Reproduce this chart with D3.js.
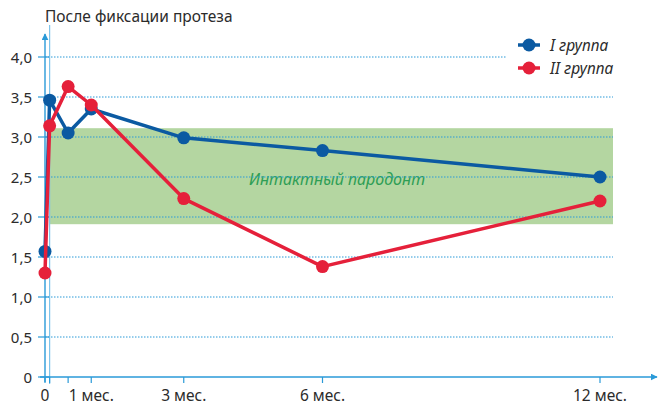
<!DOCTYPE html>
<html>
<head>
<meta charset="utf-8">
<script src="https://cdn.jsdelivr.net/npm/d3@7"></script>
<style>
  body { margin: 0; background: #fff; }
  svg text { font-family: "Noto Sans", "Open Sans", sans-serif; fill: #2b2b2b; }
</style>
</head>
<body>
<svg></svg>
<script>
var WIDTH = 659;
var HEIGHT = 407;

// time points in months after prosthesis fixation
var months = [0, 0.1, 0.5, 1, 3, 6, 12];
var group1 = [1.57, 3.46, 3.05, 3.35, 2.99, 2.83, 2.50];
var group2 = [1.30, 3.14, 3.63, 3.40, 2.23, 1.38, 2.20];
var seriesNames = ["I группа", "II группа"];
var yTicks = [0, 0.5, 1, 1.5, 2, 2.5, 3, 3.5, 4];
var xTicks = [0, 0.1, 0.5, 1, 3, 6, 12];
var xLabels = [
    {"m": 0, "label": "0"},
    {"m": 1, "label": "1 мес."},
    {"m": 3, "label": "3 мес."},
    {"m": 6, "label": "6 мес."},
    {"m": 12, "label": "12 мес."}
];
var normRange = [1.91, 3.11];

var AXIS = "#2a9ad8";
var BLUE = "#0b5aa2";
var RED = "#e5203a";

var svg = d3.select("svg")
    .attr("width", WIDTH)
    .attr("height", HEIGHT);

var x = d3.scaleLinear().domain([0, 12]).range([45, 600]);
var y = d3.scaleLinear().domain([0, 4]).range([377, 57]);

// normal range band
svg.append("rect")
    .attr("x", x(0.1))
    .attr("y", y(normRange[1]))
    .attr("width", 613 - x(0.1))
    .attr("height", y(normRange[0]) - y(normRange[1]))
    .attr("fill", "#b4d6a1");

svg.append("text")
    .attr("x", 337)
    .attr("y", y(2.47) + 6)
    .attr("text-anchor", "middle")
    .style("font-size", "16px")
    .style("font-style", "italic")
    .style("fill", "#2e9e55")
    .text("Интактный пародонт");

// dotted grid
svg.append("g").selectAll("line")
    .data(yTicks.filter(function(d) { return d > 0; }))
    .enter()
    .append("line")
    .attr("x1", 45)
    .attr("x2", function(d) { return d === 4 ? 507 : 613; })
    .attr("y1", function(d) { return y(d); })
    .attr("y2", function(d) { return y(d); })
    .attr("stroke", AXIS)
    .attr("stroke-width", 1)
    .attr("stroke-dasharray", "1.5,1.5");

// y tick marks and labels
svg.append("g").selectAll("line")
    .data(yTicks)
    .enter()
    .append("line")
    .attr("x1", 38)
    .attr("x2", 50)
    .attr("y1", function(d) { return y(d); })
    .attr("y2", function(d) { return y(d); })
    .attr("stroke", AXIS)
    .attr("stroke-width", 1.2);

svg.append("g").selectAll("text")
    .data(yTicks)
    .enter()
    .append("text")
    .attr("x", 32)
    .attr("y", function(d) { return y(d) + 5.5; })
    .attr("text-anchor", "end")
    .style("font-size", "15px")
    .text(function(d) { return d === 0 ? "0" : d3.format(".1f")(d).replace(".", ","); });

// axes
var defs = svg.append("defs");
defs.append("marker")
    .attr("id", "arrow")
    .attr("viewBox", "0 0 10 10")
    .attr("refX", 9)
    .attr("refY", 5)
    .attr("markerWidth", 7)
    .attr("markerHeight", 7)
    .attr("markerUnits", "userSpaceOnUse")
    .attr("orient", "auto")
    .append("path")
    .attr("d", "M0,0 L10,5 L0,10 z")
    .attr("fill", AXIS);

svg.append("line")
    .attr("x1", 45).attr("x2", 45)
    .attr("y1", 382).attr("y2", 34)
    .attr("stroke", AXIS)
    .attr("stroke-width", 1.4)
    .attr("marker-end", "url(#arrow)");

svg.append("line")
    .attr("x1", x(0.1)).attr("x2", x(0.1))
    .attr("y1", 384).attr("y2", 25)
    .attr("stroke", "#7cc3ea")
    .attr("stroke-width", 1.2);

svg.append("line")
    .attr("x1", 40).attr("x2", 657)
    .attr("y1", 377).attr("y2", 377)
    .attr("stroke", AXIS)
    .attr("stroke-width", 1.4)
    .attr("marker-end", "url(#arrow)");

svg.append("g").selectAll("line")
    .data(xTicks)
    .enter()
    .append("line")
    .attr("x1", function(d) { return x(d); })
    .attr("x2", function(d) { return x(d); })
    .attr("y1", 377)
    .attr("y2", 383)
    .attr("stroke", AXIS)
    .attr("stroke-width", 1.2);

svg.append("g").selectAll("text")
    .data(xLabels)
    .enter()
    .append("text")
    .attr("x", function(d) { return x(d.m); })
    .attr("y", 401)
    .attr("text-anchor", "middle")
    .style("font-size", "15.5px")
    .text(function(d) { return d.label; });

// title
svg.append("text")
    .attr("x", 45)
    .attr("y", 22)
    .style("font-size", "15.5px")
    .text("После фиксации протеза");

// series
var line = d3.line()
    .x(function(d) { return x(d[0]); })
    .y(function(d) { return y(d[1]); });

function drawSeries(values, color) {
    var pts = months.map(function(m, i) { return [m, values[i]]; });
    svg.append("path")
        .datum(pts)
        .attr("d", line)
        .attr("fill", "none")
        .attr("stroke", color)
        .attr("stroke-width", 3.5)
        .attr("stroke-linejoin", "round");
    svg.append("g").selectAll("circle")
        .data(pts)
        .enter()
        .append("circle")
        .attr("cx", function(d) { return x(d[0]); })
        .attr("cy", function(d) { return y(d[1]); })
        .attr("r", 6.5)
        .attr("fill", color);
}

drawSeries(group1, BLUE);
drawSeries(group2, RED);

// legend
var legend = svg.append("g").selectAll("g")
    .data(seriesNames)
    .enter()
    .append("g")
    .attr("transform", function(d, i) { return "translate(518," + (45 + i * 23) + ")"; });

legend.append("line")
    .attr("x1", 0).attr("x2", 22)
    .attr("stroke", function(d, i) { return i === 0 ? BLUE : RED; })
    .attr("stroke-width", 3.5);
legend.append("circle")
    .attr("cx", 11)
    .attr("r", 6.5)
    .attr("fill", function(d, i) { return i === 0 ? BLUE : RED; });
legend.append("text")
    .attr("x", 32)
    .attr("y", 5.5)
    .style("font-size", "15.5px")
    .style("font-style", "italic")
    .text(function(d) { return d; });
</script>
</body>
</html>
